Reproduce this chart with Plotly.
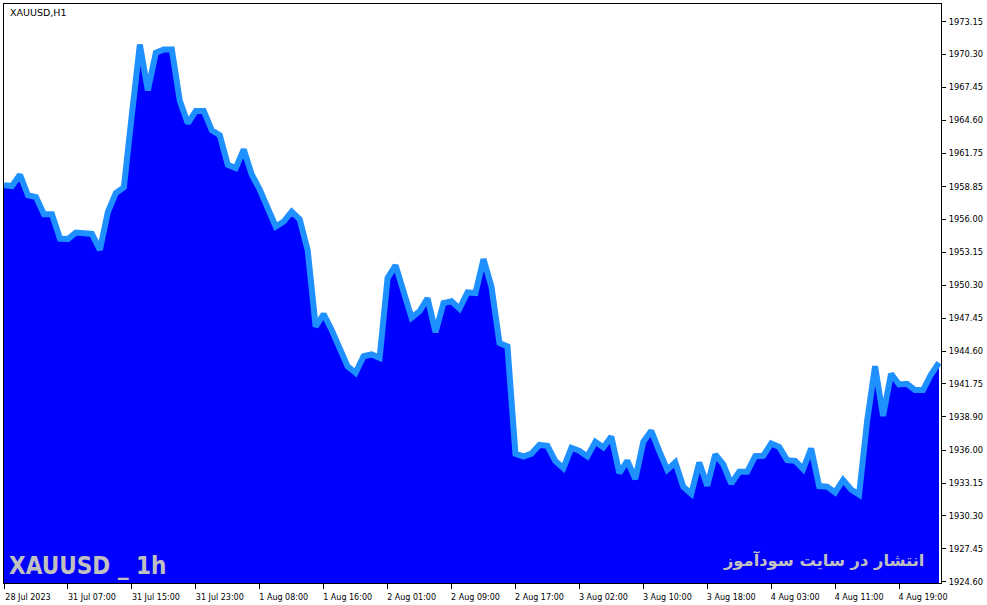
import plotly.graph_objects as go

# Hourly closes XAUUSD (H1)
closes = [
    1958.96, 1958.90, 1959.88, 1958.10, 1957.95, 1956.45, 1956.45, 1954.35, 1954.30, 1954.87,
    1954.81, 1954.75, 1953.37, 1956.65, 1958.30, 1958.78, 1965.10, 1971.16, 1967.19, 1970.45,
    1970.73, 1970.73, 1966.30, 1964.34, 1965.41, 1965.41, 1963.73, 1963.30, 1960.74, 1960.45,
    1962.07, 1959.90, 1958.60, 1957.00, 1955.39, 1955.82, 1956.68, 1956.02, 1953.34, 1946.71,
    1947.81, 1946.43, 1944.70, 1943.26, 1942.71, 1944.15, 1944.30, 1944.01, 1950.92, 1952.02,
    1949.74, 1947.49, 1948.04, 1949.17, 1946.23, 1948.76, 1948.91, 1948.27, 1949.68, 1949.63,
    1952.56, 1950.17, 1945.30, 1945.00, 1935.69, 1935.46, 1935.71, 1936.46, 1936.38, 1935.05,
    1934.45, 1936.21, 1935.95, 1935.46, 1936.73, 1936.24, 1937.18, 1934.02, 1935.08, 1933.50,
    1936.73, 1937.68, 1935.92, 1934.31, 1934.94, 1932.84, 1932.23, 1934.94, 1932.92, 1935.63,
    1934.77, 1933.10, 1934.13, 1934.13, 1935.48, 1935.51, 1936.58, 1936.29, 1935.14, 1935.08,
    1934.36, 1936.15, 1932.89, 1932.84, 1932.34, 1933.42, 1932.60, 1932.15, 1938.51, 1943.29,
    1938.97, 1942.63, 1941.70, 1941.76, 1941.22, 1941.22, 1942.57, 1943.58,
]
bars = list(range(len(closes)))

x_tick_bars = [0, 8, 16, 24, 32, 40, 48, 56, 64, 72, 80, 88, 96, 104, 112]
x_tick_labels = ["28 Jul 2023", "31 Jul 07:00", "31 Jul 15:00", "31 Jul 23:00", "1 Aug 08:00",
                 "1 Aug 16:00", "2 Aug 01:00", "2 Aug 09:00", "2 Aug 17:00", "3 Aug 02:00",
                 "3 Aug 10:00", "3 Aug 18:00", "4 Aug 03:00", "4 Aug 11:00", "4 Aug 19:00"]

y_tick_vals = [1924.60, 1927.45, 1930.30, 1933.15, 1936.00, 1938.90, 1941.75, 1944.60, 1947.45,
               1950.30, 1953.15, 1956.00, 1958.85, 1961.75, 1964.60, 1967.45, 1970.30, 1973.15]
y_tick_labels = ["%.2f" % v for v in y_tick_vals]

symbol_title = "XAUUSD,H1"
watermark_left = "XAUUSD _ 1h"
watermark_right = "انتشار در سایت سودآموز"

W, H = 987, 605
ml, mr, mt, mb = 3, 46, 3, 21
pw = W - ml - mr
ph = H - mt - mb

fig = go.Figure()
fig.add_trace(go.Scatter(
    x=bars, y=closes, mode="lines",
    line=dict(color="#1E90FF", width=6),
    fill="tozeroy", fillcolor="#0000FF",
    hoverinfo="skip", showlegend=False,
))

fig.update_layout(
    width=W, height=H,
    margin=dict(l=ml, r=mr, t=mt, b=mb, pad=0),
    paper_bgcolor="white", plot_bgcolor="white",
    font=dict(family="DejaVu Sans", size=8, color="black"),
    xaxis=dict(
        range=[0, pw / 8.0], tickmode="array", tickvals=x_tick_bars, ticktext=x_tick_labels,
        showgrid=False, zeroline=False, showline=True, linecolor="black", linewidth=1,
        mirror=True, ticks="outside", ticklen=5, tickcolor="black", ticklabelshift=24,
        ticklabelstandoff=1, tickfont=dict(family="DejaVu Sans", size=8, color="black"),
    ),
    yaxis=dict(
        range=[1924.49, 1974.68], side="right", tickmode="array", tickvals=y_tick_vals,
        ticktext=y_tick_labels, showgrid=False, zeroline=False, showline=True,
        linecolor="black", linewidth=1, mirror=True, ticks="outside", ticklen=4,
        tickcolor="black", ticklabelstandoff=1,
        tickfont=dict(family="DejaVu Sans", size=8.3, color="black"),
    ),
    annotations=[
        dict(text=symbol_title, xref="paper", yref="paper", x=(7 - ml) / pw, y=1 - (4 - mt) / ph,
             xanchor="left", yanchor="top", showarrow=False,
             font=dict(family="DejaVu Sans", size=9.5, color="black")),
        dict(text="<b>%s</b>" % watermark_left, xref="paper", yref="paper",
             x=(6 - ml) / pw, y=1 - (551 - mt) / ph, xanchor="left", yanchor="top",
             showarrow=False,
             font=dict(family="Liberation Sans Narrow, DejaVu Sans Condensed, Liberation Sans",
                       size=24, color="#C0C0C0")),
        dict(text="<b>%s</b>" % watermark_right, xref="paper", yref="paper",
             x=(926 - ml) / pw, y=1 - (549 - mt) / ph, xanchor="right", yanchor="top",
             showarrow=False,
             font=dict(family="DejaVu Sans", size=16.3, color="#C0C0C0")),
    ],
)

fig.write_html("out.html", config={"displayModeBar": False},
               post_script="document.body.style.margin='0';")
